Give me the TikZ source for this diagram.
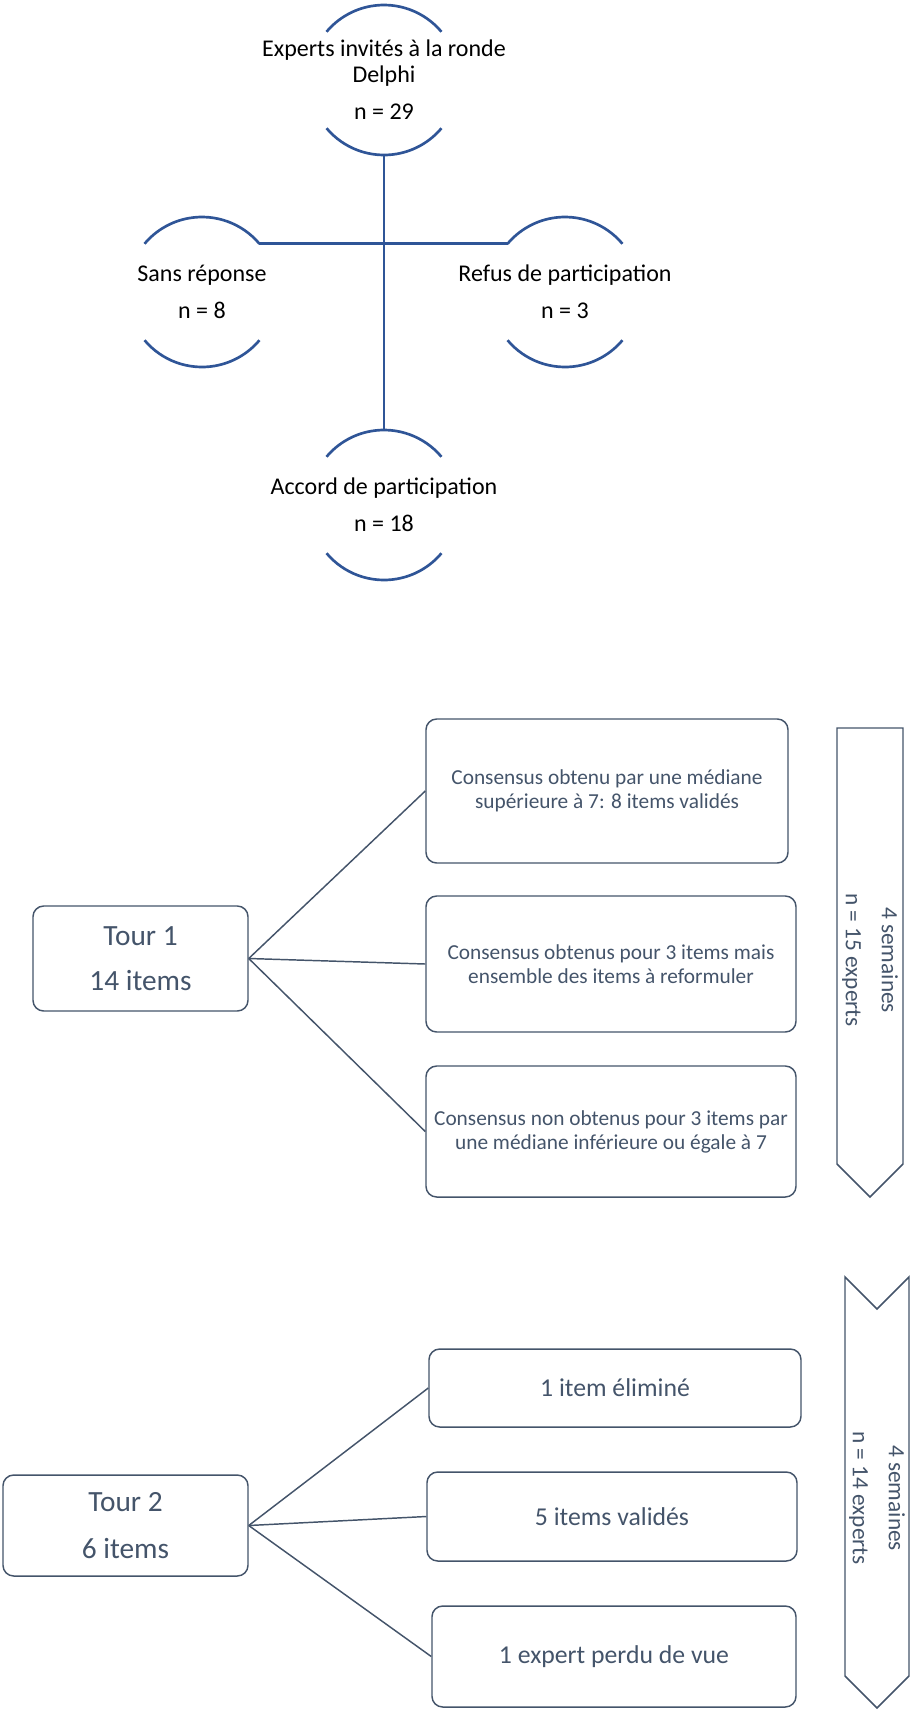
\documentclass[tikz,border=0pt]{standalone}
\usepackage{fontspec}
\setmainfont{Carlito}
\usetikzlibrary{shapes.symbols}

\definecolor{bleuArc}{RGB}{47,85,151}
\definecolor{ardoise}{RGB}{68,84,106}

\tikzset{every picture/.style={line width=0.75pt}}
\tikzset{
  cercle/.style={circle, draw=none, inner sep=0pt, outer sep=0pt, minimum size=112.5pt},
  cercletxt/.style={inner sep=0pt, align=center, font=\fontsize{18}{19.5}\selectfont},
  arcbleu/.style={draw=bleuArc, line width=2pt},
  boite/.style={draw=ardoise, text=ardoise, rounded corners=8pt, line width=1.1pt, inner sep=2pt, align=center, font=\fontsize{16}{18}\selectfont},
  grande/.style={font=\fontsize{19.3}{22}\selectfont},
  tour/.style={boite, font=\fontsize{22}{26}\selectfont},
  liaison/.style={draw=ardoise, line width=1.1pt},
  duree/.style={draw=ardoise, line width=1.1pt, signal, signal to=east, rotate=-90, inner sep=0pt},
  dureetxt/.style={text=ardoise, rotate=-90, align=center, inner sep=0pt, font=\fontsize{17.5}{27}\selectfont}
}

\begin{document}
\begin{tikzpicture}[x=0.75pt,y=0.75pt,yscale=-1,xscale=1]
    \useasboundingbox (0,0) rectangle (910,1718);

    %Shape: Circle [invites]
    \node [cercle] (invite) at (384,80) {};
    %Shape: Circle [sans reponse]
    \node [cercle] (sansrep) at (202,292) {};
    %Shape: Circle [refus]
    \node [cercle] (refus) at (565,292) {};
    %Shape: Circle [accord]
    \node [cercle] (accord) at (384,505) {};

    %Shape: Arc
    \draw [arcbleu] (invite.40) arc [start angle=-40, end angle=-140, radius=56.25pt];
    \draw [arcbleu] (invite.220) arc [start angle=-220, end angle=-320, radius=56.25pt];
    %Shape: Arc
    \draw [arcbleu] (sansrep.40) arc [start angle=-40, end angle=-140, radius=56.25pt];
    \draw [arcbleu] (sansrep.220) arc [start angle=-220, end angle=-320, radius=56.25pt];
    %Shape: Arc
    \draw [arcbleu] (refus.40) arc [start angle=-40, end angle=-140, radius=56.25pt];
    \draw [arcbleu] (refus.220) arc [start angle=-220, end angle=-320, radius=56.25pt];
    %Shape: Arc
    \draw [arcbleu] (accord.40) arc [start angle=-40, end angle=-140, radius=56.25pt];
    \draw [arcbleu] (accord.220) arc [start angle=-220, end angle=-320, radius=56.25pt];

    %Straight Lines
    \draw [arcbleu] (sansrep.40) -- (refus.140);
    %Straight Lines
    \draw [arcbleu] (invite.south) -- (accord.north);

    % Text Node
    \node [cercletxt] (invite-t) at (invite) {Experts invités à la ronde\\Delphi\\[8.25pt]n = 29};
    % Text Node
    \node [cercletxt] (sansrep-t) at (sansrep) {Sans réponse\\[8.25pt]n = 8};
    % Text Node
    \node [cercletxt] (refus-t) at (refus) {Refus de participation\\[8.25pt]n = 3};
    % Text Node
    \node [cercletxt] (accord-t) at (accord) {Accord de participation\\[8.25pt]n = 18};

    %Shape: Rounded Rect [tour 1]
    \node [tour, minimum width=161.25pt, minimum height=78.75pt] (tour1) at (140.5,958.5) {Tour 1\\[7.75pt]14 items};
    %Shape: Rounded Rect
    \node [boite, minimum width=271.5pt, minimum height=108pt] (valides1) at (607,791) {Consensus obtenu par une médiane\\supérieure à 7: 8 items validés};
    %Shape: Rounded Rect
    \node [boite, minimum width=277.5pt, minimum height=102pt] (reform1) at (611,964) {Consensus obtenus pour 3 items mais\\ensemble des items à reformuler};
    %Shape: Rounded Rect
    \node [boite, minimum width=277.5pt, minimum height=98.25pt] (nonobt1) at (611,1131.5) {Consensus non obtenus pour 3 items par\\une médiane inférieure ou égale à 7};
    %Shape: Chevron
    \node [duree, minimum width=351.75pt, minimum height=49.5pt] (duree1) at (870,946) {};
    % Text Node
    \node [dureetxt] (duree1-t) at (870,960) {4 semaines\\n = 15 experts};

    %Straight Lines
    \draw [liaison] (tour1.east) -- (valides1.west);
    \draw [liaison] (tour1.east) -- (reform1.west);
    \draw [liaison] (tour1.east) -- (nonobt1.west);

    %Shape: Rounded Rect [tour 2]
    \node [tour, minimum width=183.75pt, minimum height=75.75pt] (tour2) at (125.5,1525.5) {Tour 2\\[9pt]6 items};
    %Shape: Rounded Rect
    \node [boite, grande, minimum width=279pt, minimum height=58.5pt] (elimine) at (615,1388) {1 item éliminé};
    %Shape: Rounded Rect
    \node [boite, grande, minimum width=277.5pt, minimum height=66.75pt] (valides2) at (612,1516.5) {5 items validés};
    %Shape: Rounded Rect
    \node [boite, grande, minimum width=273pt, minimum height=75.75pt] (perdu) at (614,1656.5) {1 expert perdu de vue};
    %Shape: Chevron
    \node [duree, signal from=west, minimum width=323.25pt, minimum height=48pt] (duree2) at (877,1492.5) {};
    % Text Node
    \node [dureetxt] (duree2-t) at (877,1498) {4 semaines\\n = 14 experts};

    %Straight Lines
    \draw [liaison] (tour2.east) -- (elimine.west);
    \draw [liaison] (tour2.east) -- (valides2.west);
    \draw [liaison] (tour2.east) -- (perdu.west);

\end{tikzpicture}
\end{document}
